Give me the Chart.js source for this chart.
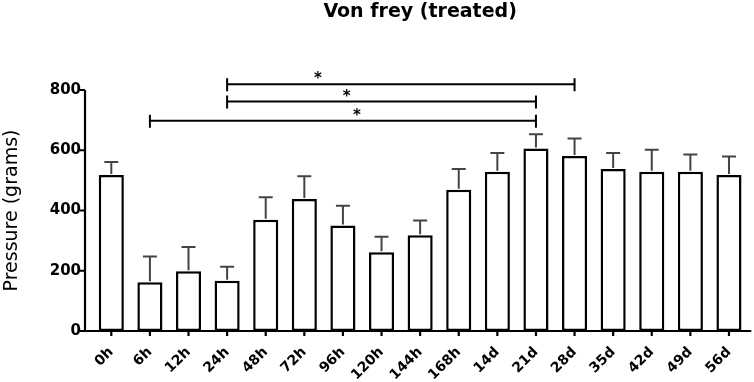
<!DOCTYPE html>
<html>
<head>
<meta charset="utf-8">
<script src="https://cdn.jsdelivr.net/npm/chart.js@4.4.1/dist/chart.umd.min.js"></script>
<style>
  html, body { margin: 0; padding: 0; background: #fff; }
  #wrap { width: 754px; height: 382px; position: relative; }
</style>
</head>
<body>
<div id="wrap"><canvas id="chart-vonfrey"></canvas></div>
<script>
// Von frey (treated) - mean + SEM per time point
const timePoints = ['0h', '6h', '12h', '24h', '48h', '72h', '96h', '120h', '144h', '168h', '14d', '21d', '28d', '35d', '42d', '49d', '56d'];
const meanPressure = [518, 162, 198, 167, 369, 438, 350, 261, 318, 469, 529, 606, 581, 538, 529, 529, 518];
const semPressure = [43, 85, 81, 46, 75, 76, 66, 52, 49, 69, 62, 47, 58, 53, 73, 57, 61];
const yTicks = [0, 200, 400, 600, 800];

// significance brackets: from/to are category indexes, level is the bracket height (grams)
const sigFrom = [3, 3, 1];
const sigTo = [12, 11, 11];
const sigLevel = [819, 762, 698];
const sigStarX = [5.35, 6.1, 6.36];
const sigStarY = [853, 792, 728];

const FONT = "'DejaVu Sans', sans-serif";

const overlayPlugin = {
    id: 'vfOverlay',
    afterDatasetsDraw(chart) {
        const { ctx: c, chartArea: area } = chart;
        const xs = chart.scales.x;
        const ys = chart.scales.y;
        const axisX = area.left - 7;
        const y0 = ys.getPixelForValue(0);
        const lerpX = v => {
            const i = Math.floor(v);
            const a = xs.getPixelForValue(i);
            const b = xs.getPixelForValue(i + 1);
            return a + (b - a) * (v - i);
        };
        c.save();

        // error bars (upper only)
        c.strokeStyle = '#444';
        c.lineWidth = 2;
        meanPressure.forEach((m, i) => {
            const px = xs.getPixelForValue(i);
            const top = ys.getPixelForValue(m + semPressure[i]);
            const base = ys.getPixelForValue(m) - 1;
            c.beginPath();
            c.moveTo(px, base);
            c.lineTo(px, top);
            c.moveTo(px - 7, top);
            c.lineTo(px + 7, top);
            c.stroke();
        });

        // axes
        c.strokeStyle = '#000';
        c.lineWidth = 2.2;
        c.beginPath();
        c.moveTo(axisX, ys.getPixelForValue(800));
        c.lineTo(axisX, y0);
        c.lineTo(area.right + 3, y0);
        yTicks.forEach(v => {
            const py = ys.getPixelForValue(v);
            c.moveTo(axisX - 5, py);
            c.lineTo(axisX, py);
        });
        timePoints.forEach((t, i) => {
            const px = xs.getPixelForValue(i);
            c.moveTo(px, y0);
            c.lineTo(px, y0 + 5);
        });
        c.stroke();

        // significance brackets
        c.lineWidth = 2;
        c.fillStyle = '#000';
        c.font = `bold 15px ${FONT}`;
        c.textAlign = 'center';
        c.textBaseline = 'alphabetic';
        sigLevel.forEach((lvl, k) => {
            const py = ys.getPixelForValue(lvl);
            const xa = xs.getPixelForValue(sigFrom[k]);
            const xb = xs.getPixelForValue(sigTo[k]);
            c.beginPath();
            c.moveTo(xa, py);
            c.lineTo(xb, py);
            c.moveTo(xa, py - 6);
            c.lineTo(xa, py + 7);
            c.moveTo(xb, py - 6);
            c.lineTo(xb, py + 7);
            c.stroke();
            c.fillText('*', lerpX(sigStarX[k]), ys.getPixelForValue(sigStarY[k]) + 8.5);
        });

        // title
        c.font = `bold 19px ${FONT}`;
        c.fillText('Von frey (treated)', (area.left + area.right) / 2, 17);

        // y axis title
        c.font = `19px ${FONT}`;
        c.translate(17, (area.top + area.bottom) / 2);
        c.rotate(-Math.PI / 2);
        c.fillText('Pressure (grams)', 0, 0);
        c.restore();
    },
};

const ctx = document.getElementById('chart-vonfrey').getContext('2d');
new Chart(ctx, {
    type: 'bar',
    data: {
        labels: timePoints,
        datasets: [
            {
                label: 'Von frey (treated)',
                data: meanPressure,
                backgroundColor: '#fff',
                borderColor: '#000',
                borderWidth: 2.5,
                borderSkipped: false,
                categoryPercentage: 1,
                barPercentage: 0.65,
            },
        ],
    },
    plugins: [overlayPlugin],
    options: {
        responsive: true,
        maintainAspectRatio: false,
        animation: false,
        layout: { padding: { top: 90, right: 5, bottom: 0, left: 0 } },
        plugins: {
            legend: { display: false },
            tooltip: { enabled: false },
            title: { display: false },
        },
        scales: {
            x: {
                offset: true,
                grid: { display: false, drawTicks: false },
                border: { display: false },
                ticks: {
                    color: '#000',
                    font: { family: FONT, size: 14, weight: 'bold' },
                    minRotation: 45,
                    maxRotation: 45,
                    padding: 13,
                    autoSkip: false,
                },
                afterFit(scale) { scale.height = 51; },
            },
            y: {
                min: 0,
                max: 800,
                grid: { display: false, drawTicks: false },
                border: { display: false },
                ticks: {
                    stepSize: 200,
                    color: '#000',
                    font: { family: FONT, size: 15, weight: 'bold' },
                    padding: 11,
                },
                afterFit(scale) { scale.width = 92; },
            },
        },
    },
});
</script>
</body>
</html>
